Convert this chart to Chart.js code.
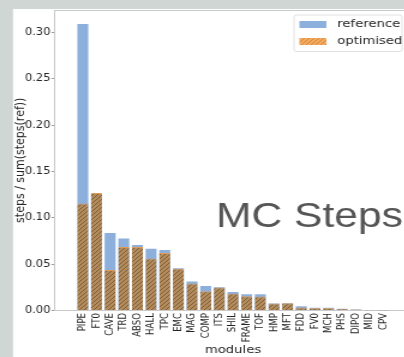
<!DOCTYPE html>
<html>
<head>
<meta charset="utf-8">
<style>
  html, body { margin: 0; padding: 0; width: 404px; height: 357px; overflow: hidden; background: #d0d6d3; }
  #wrap { position: absolute; left: 0; top: 0; width: 352px; height: 357px; transform: scaleX(1.2); transform-origin: 0 0; }
</style>
<script src="https://cdn.jsdelivr.net/npm/chart.js@4/dist/chart.umd.min.js"></script>
</head>
<body>
<div id="wrap"><canvas id="chart" width="352" height="357"></canvas></div>
<script>
// Share of Monte Carlo steps per detector module
const modules = ['PIPE', 'FT0', 'CAVE', 'TRD', 'ABSO', 'HALL', 'TPC', 'EMC', 'MAG', 'COMP', 'ITS', 'SHIL',
                 'FRAME', 'TOF', 'HMP', 'MFT', 'FDD', 'FV0', 'MCH', 'PHS', 'DIPO', 'MID', 'CPV'];
const reference = [0.309, 0.126, 0.0835, 0.0777, 0.0705, 0.0666, 0.0651, 0.0455, 0.0312, 0.0265, 0.0252, 0.0200,
                   0.0175, 0.0175, 0.0075, 0.0077, 0.0045, 0.0030, 0.0030, 0.0020, 0.0012, 0.0005, 0.0003];
const optimised = [0.1155, 0.1268, 0.0438, 0.0684, 0.0684, 0.0560, 0.0619, 0.0449, 0.0290, 0.0208, 0.0249, 0.0182,
                   0.0154, 0.0150, 0.0076, 0.0078, 0.0032, 0.0025, 0.0025, 0.0016, 0.0010, 0.0004, 0.0003];
const yTicks = [0, 0.05, 0.10, 0.15, 0.20, 0.25, 0.30];
const seriesNames = ['reference', 'optimised'];

const BLUE = '#8cafdc';
const SPINE = '#c9c9c9';
const TEXT = '#262626';

function hatch(base, line) {
  const c = document.createElement('canvas');
  c.width = 4; c.height = 4;
  const g = c.getContext('2d');
  g.fillStyle = base;
  g.fillRect(0, 0, 4, 4);
  g.strokeStyle = line;
  g.lineWidth = 1;
  g.beginPath();
  g.moveTo(-1, 5); g.lineTo(5, -1);
  g.moveTo(-1, 1); g.lineTo(1, -1);
  g.moveTo(3, 5); g.lineTo(5, 3);
  g.stroke();
  return g.createPattern(c, 'repeat');
}
const ctx = document.getElementById('chart').getContext('2d');
const barHatch = hatch('#b48c5c', '#7d5d3a');
const legendHatch = hatch('#f3a95e', '#d68a3d');

// grey frame with white panel, plus the top spine
const panel = {
  id: 'panel',
  beforeDraw(chart) {
    const c = chart.ctx;
    c.save();
    c.fillStyle = '#d0d6d3';
    c.fillRect(0, 0, chart.width, chart.height);
    c.fillStyle = '#ffffff';
    c.fillRect(10.8, 9, chart.width, chart.height);
    c.restore();
  },
  afterDraw(chart) {
    const c = chart.ctx, a = chart.chartArea;
    c.save();
    c.strokeStyle = SPINE;
    c.lineWidth = 1;
    c.beginPath();
    c.moveTo(a.left, a.top + 0.5);
    c.lineTo(a.right, a.top + 0.5);
    c.stroke();
    c.restore();
  }
};

// legend box in the upper right of the axes, and the big caption
const overlay = {
  id: 'overlay',
  afterDraw(chart) {
    const c = chart.ctx;
    c.save();
    const bx = 245, by = 15, bw = 90, bh = 36.5, r = 2;
    c.beginPath();
    c.moveTo(bx + r, by);
    c.arcTo(bx + bw, by, bx + bw, by + bh, r);
    c.arcTo(bx + bw, by + bh, bx, by + bh, r);
    c.arcTo(bx, by + bh, bx, by, r);
    c.arcTo(bx, by, bx + bw, by, r);
    c.closePath();
    c.fillStyle = 'rgba(255,255,255,0.85)';
    c.fill();
    c.strokeStyle = '#e2e2e2';
    c.lineWidth = 1;
    c.stroke();
    const fills = [BLUE, legendHatch];
    const rows = [24.5, 41.5];
    c.font = '11px "DejaVu Sans"';
    c.textBaseline = 'middle';
    c.textAlign = 'left';
    seriesNames.forEach((name, i) => {
      c.fillStyle = fills[i];
      c.fillRect(249.5, rows[i] - 3.5, 22.5, 7);
      c.fillStyle = TEXT;
      c.fillText(name, 281, rows[i]);
    });
    c.font = '35.5px "Liberation Sans"';
    c.fillStyle = '#555555';
    c.textBaseline = 'alphabetic';
    c.fillText('MC Steps', 180, 226.7);
    c.restore();
  }
};

new Chart(ctx, {
  type: 'bar',
  data: {
    datasets: [
      {
        label: seriesNames[0],
        data: reference.map((v, i) => ({ x: i, y: v })),
        backgroundColor: BLUE,
        borderWidth: 0,
        grouped: false,
        order: 2
      },
      {
        label: seriesNames[1],
        data: optimised.map((v, i) => ({ x: i, y: v })),
        backgroundColor: barHatch,
        borderColor: '#e09a55',
        borderWidth: { top: 1, left: 0, right: 0, bottom: 0 },
        borderSkipped: 'bottom',
        grouped: false,
        order: 1
      }
    ]
  },
  options: {
    responsive: false,
    animation: false,
    devicePixelRatio: 1,
    barPercentage: 0.8,
    categoryPercentage: 1.0,
    layout: { padding: { left: 0, right: 8.7, top: 10, bottom: 0 } },
    plugins: { legend: { display: false }, tooltip: { enabled: false } },
    scales: {
      x: {
        type: 'linear',
        min: -1.54,
        max: 23.54,
        afterBuildTicks: s => { s.ticks = modules.map((_, i) => ({ value: i })); },
        afterFit: s => { s.height = 46.5; },
        grid: { display: false, drawTicks: false },
        border: { display: true, color: SPINE, width: 1 },
        ticks: {
          autoSkip: false,
          minRotation: 90,
          maxRotation: 90,
          padding: 2.5,
          color: TEXT,
          font: { family: 'DejaVu Sans', size: 8.6 },
          callback: v => modules[v]
        },
        title: {
          display: true,
          text: 'modules',
          color: TEXT,
          font: { family: 'DejaVu Sans', size: 11 },
          padding: { top: 0, bottom: 0.2 }
        }
      },
      y: {
        type: 'linear',
        min: 0,
        max: 0.324,
        afterBuildTicks: s => { s.ticks = yTicks.map(v => ({ value: v })); },
        afterFit: s => { s.width = 45; },
        grid: { display: true, drawOnChartArea: false, drawTicks: true, tickLength: 2, color: '#9a9a9a' },
        border: { display: true, color: SPINE, width: 1 },
        ticks: {
          padding: 1,
          color: TEXT,
          font: { family: 'DejaVu Sans', size: 9.6 },
          callback: v => v.toFixed(2)
        },
        title: {
          display: true,
          text: 'steps / sum(steps(ref))',
          color: TEXT,
          font: { family: 'DejaVu Sans', size: 11 },
          padding: { top: 10.9, bottom: 0 }
        }
      }
    }
  },
  plugins: [panel, overlay]
});
</script>
</body>
</html>
